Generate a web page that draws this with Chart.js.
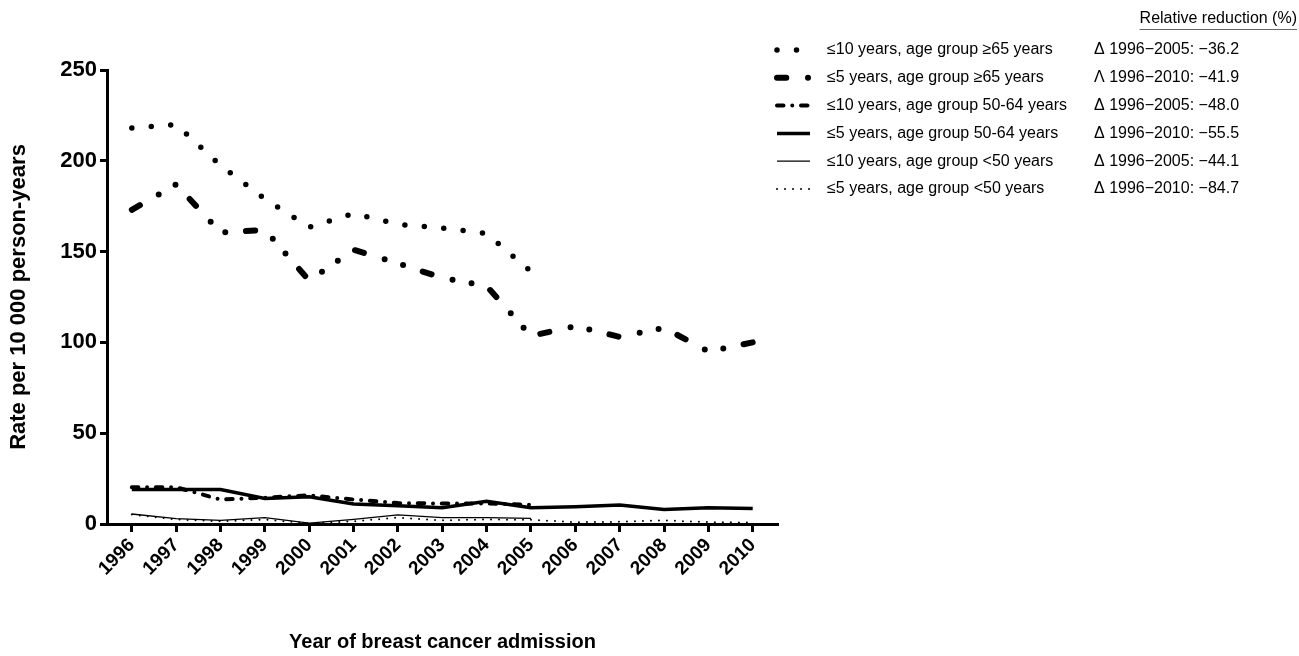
<!DOCTYPE html>
<html>
<head>
<meta charset="utf-8">
<script src="https://cdn.jsdelivr.net/npm/chart.js@4.4.1/dist/chart.umd.min.js"></script>
<style>
  html, body { margin: 0; padding: 0; background: #fff; }
  #wrap { width: 1299px; height: 656px; }
</style>
</head>
<body>
<div id="wrap"><canvas id="myChart" width="1299" height="656"></canvas></div>
<script>
// years on the x axis
const years = [1996, 1997, 1998, 1999, 2000, 2001, 2002, 2003, 2004, 2005, 2006, 2007, 2008, 2009, 2010];
const yTicks = [0, 50, 100, 150, 200, 250];

// rates per 10 000 person-years
const le10Age65 = [218, 220, 197.5, 179, 163.5, 171, 165, 163, 160, 139];
const le5Age65 = [173, 187, 160.5, 162, 134, 151, 143.5, 135.5, 131, 103.5, 109, 103, 108, 95, 100];
const le10Age5064 = [20.2, 20.2, 13.5, 14.5, 15.8, 13.5, 11.5, 11.3, 11.3, 10.5];
const le5Age5064 = [19, 19, 19, 14, 15, 11, 10, 9, 12.5, 9, 9.5, 10.5, 8, 9, 8.5];
const le10Age50 = [5.5, 3, 2, 3.5, 0.5, 2.5, 5, 3.5, 3.5, 3.1];
const le5Age50 = [5.2, 2.5, 1.5, 2.5, 0.3, 1.5, 3.5, 2, 2.5, 2.3, 1, 1.2, 2, 1, 0.8];

const seriesLabels = [
  "\u226410 years, age group \u226565 years",
  "\u22645 years, age group \u226565 years",
  "\u226410 years, age group 50-64 years",
  "\u22645 years, age group 50-64 years",
  "\u226410 years, age group <50 years",
  "\u22645 years, age group <50 years"
];
const reductions = [
  "\u0394 1996\u22122005: \u221236.2",
  "\u039B 1996\u22122010: \u221241.9",
  "\u0394 1996\u22122005: \u221248.0",
  "\u0394 1996\u22122010: \u221255.5",
  "\u0394 1996\u22122005: \u221244.1",
  "\u0394 1996\u22122010: \u221284.7"
];
const headerText = "Relative reduction (%)";

const toPoints = arr => arr.map((v, i) => ({ x: years[i], y: v }));

const FONT = '"Liberation Sans", Arial, sans-serif';
Chart.defaults.font.family = FONT;
Chart.defaults.color = "#000";

// legend + reduction column at the right
const sideLegend = {
  id: "sideLegend",
  afterDraw(chart) {
    const ctx = chart.ctx;
    ctx.save();
    ctx.fillStyle = "#000";
    ctx.font = "16px " + FONT;
    ctx.textBaseline = "middle";
    ctx.textAlign = "right";
    ctx.fillText(headerText, 1297, 19);
    const hw = ctx.measureText(headerText).width;
    ctx.fillStyle = "#666";
    ctx.fillRect(1297 - hw, 29, hw, 1);
    ctx.fillStyle = "#000";
    chart.data.datasets.forEach((ds, i) => {
      const y = 50 + i * 27.8;
      ctx.save();
      ctx.strokeStyle = "#000";
      ctx.lineWidth = ds.borderWidth;
      ctx.lineCap = ds.borderCapStyle || "butt";
      ctx.setLineDash(ds.borderDash || []);
      ctx.beginPath();
      ctx.moveTo(777, y);
      ctx.lineTo(810, y);
      ctx.stroke();
      ctx.restore();
      ctx.textAlign = "left";
      ctx.fillText(ds.label, 827, y);
      ctx.fillText(reductions[i], 1094, y);
    });
    ctx.restore();
  }
};

const base = { borderColor: "#000", backgroundColor: "#000", pointRadius: 0, tension: 0, fill: false };

new Chart(document.getElementById("myChart").getContext("2d"), {
  type: "line",
  data: {
    datasets: [
      { ...base, label: seriesLabels[0], data: toPoints(le10Age65), borderWidth: 5.5, borderCapStyle: "round", borderDash: [0, 19.5] },
      { ...base, label: seriesLabels[1], data: toPoints(le5Age65), borderWidth: 6, borderCapStyle: "round", borderDash: [9.3, 21.7, 0, 19.3, 0, 20.7] },
      { ...base, label: seriesLabels[2], data: toPoints(le10Age5064), borderWidth: 4, borderCapStyle: "round", borderDash: [6.5, 8.75, 0, 8.75] },
      { ...base, label: seriesLabels[3], data: toPoints(le5Age5064), borderWidth: 3.5 },
      { ...base, label: seriesLabels[4], data: toPoints(le10Age50), borderWidth: 1.3 },
      { ...base, label: seriesLabels[5], data: toPoints(le5Age50), borderWidth: 2, borderCapStyle: "round", borderDash: [0, 8] }
    ]
  },
  options: {
    responsive: false,
    animation: false,
    devicePixelRatio: 1,
    layout: { padding: { top: 70, right: 521, left: 0, bottom: 0 } },
    plugins: { legend: { display: false }, tooltip: { enabled: false } },
    scales: {
      x: {
        type: "linear",
        min: 1995.44,
        max: 2010.57,
        afterBuildTicks: scale => { scale.ticks = years.map(v => ({ value: v })); },
        afterFit: scale => { scale.height = 132; },
        grid: { drawOnChartArea: false, drawTicks: true, tickLength: 8, tickWidth: 3, tickColor: "#000" },
        border: { display: true, color: "#000", width: 3 },
        ticks: {
          autoSkip: false, minRotation: 45, maxRotation: 45, padding: 2,
          font: { size: 19, weight: "bold" },
          callback: v => String(v)
        },
        title: {
          display: true, text: "Year of breast cancer admission",
          font: { size: 20, weight: "bold" }, padding: { top: 0, bottom: 2 }
        }
      },
      y: {
        min: 0,
        max: 250,
        afterBuildTicks: scale => { scale.ticks = yTicks.map(v => ({ value: v })); },
        afterFit: scale => { scale.width = 107; },
        grid: { drawOnChartArea: false, drawTicks: true, tickLength: 7, tickWidth: 3, tickColor: "#000" },
        border: { display: true, color: "#000", width: 3 },
        ticks: { padding: 3, font: { size: 22, weight: "bold" } },
        title: {
          display: true, text: "Rate per 10 000 person-years",
          font: { size: 22, weight: "bold" }, padding: { top: 6, bottom: 0 }
        }
      }
    }
  },
  plugins: [sideLegend]
});
</script>
</body>
</html>
